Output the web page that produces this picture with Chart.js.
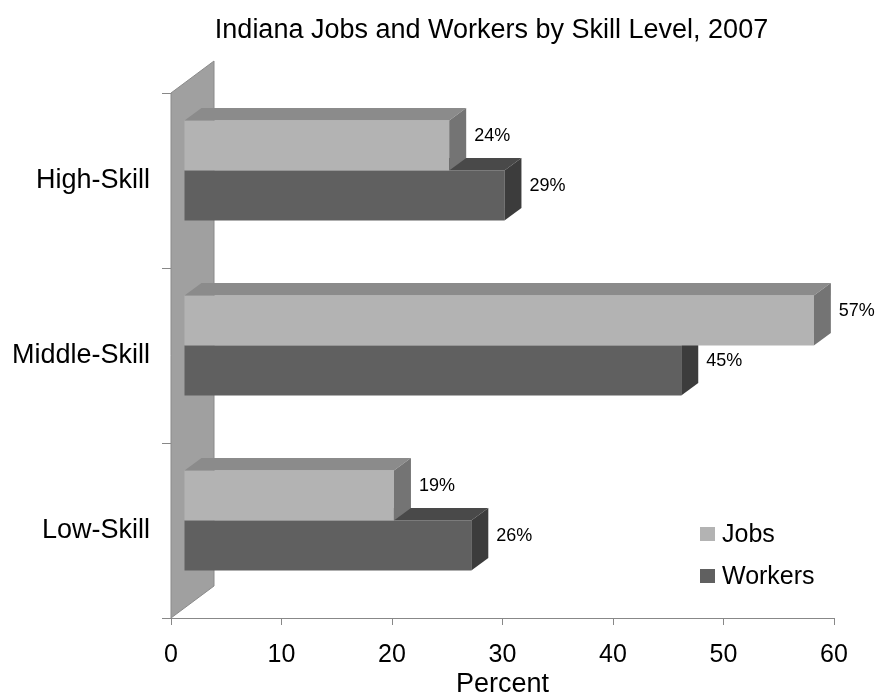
<!DOCTYPE html>
<html>
<head>
<meta charset="utf-8">
<title>Indiana Jobs and Workers by Skill Level, 2007</title>
<script src="https://cdn.jsdelivr.net/npm/chart.js@4.4.1/dist/chart.umd.min.js"></script>
<style>
  html, body { margin: 0; padding: 0; background: #fff; }
  canvas { display: block; }
</style>
</head>
<body>
<canvas id="skillChart" width="877" height="698"></canvas>
<script>
// Chart data
const skillLevels = ["High-Skill", "Middle-Skill", "Low-Skill"];
const jobsPercent = [24, 57, 19];
const workersPercent = [29, 45, 26];
const percentTicks = [0, 10, 20, 30, 40, 50, 60];
const seriesNames = ["Jobs", "Workers"];
const chartTitle = "Indiana Jobs and Workers by Skill Level, 2007";
const axisTitle = "Percent";

// Face colours for the 3D bars
const jobsColors = { front: "#b3b3b3", top: "#8b8b8b", side: "#747474" };
const workersColors = { front: "#606060", top: "#494949", side: "#3c3c3c" };

const FONT = "'Liberation Sans', Arial, sans-serif";
const SHIFT = { x: 13, y: -10 };    // bars sit a little behind the front plane
const DEPTH = { x: 17, y: -12.5 };  // depth of each bar
const WALL = { x: 43, y: -32 };     // depth of the side wall

// Draws the wall, the top/side faces of the bars, data labels, title and legend
const threeDPlugin = {
    id: "threeD",
    beforeDatasetsDraw(chart) {
        const { ctx, chartArea: a } = chart;
        ctx.save();
        ctx.beginPath();
        ctx.moveTo(a.left, a.top);
        ctx.lineTo(a.left + WALL.x, a.top + WALL.y);
        ctx.lineTo(a.left + WALL.x, a.bottom + WALL.y);
        ctx.lineTo(a.left, a.bottom);
        ctx.closePath();
        ctx.fillStyle = "#a0a0a0";
        ctx.fill();
        ctx.strokeStyle = "#8a8a8a";
        ctx.lineWidth = 1;
        ctx.stroke();
        ctx.restore();
    },
    beforeDatasetDraw(chart) {
        chart.ctx.save();
        chart.ctx.translate(SHIFT.x, SHIFT.y);
    },
    afterDatasetDraw(chart, args) {
        const ctx = chart.ctx;
        const colors = args.index === 0 ? jobsColors : workersColors;
        args.meta.data.forEach(bar => {
            const top = bar.y - bar.height / 2;
            const bottom = bar.y + bar.height / 2;

            // top face
            ctx.beginPath();
            ctx.moveTo(bar.base, top);
            ctx.lineTo(bar.x, top);
            ctx.lineTo(bar.x + DEPTH.x, top + DEPTH.y);
            ctx.lineTo(bar.base + DEPTH.x, top + DEPTH.y);
            ctx.closePath();
            ctx.fillStyle = colors.top;
            ctx.fill();

            // side face
            ctx.beginPath();
            ctx.moveTo(bar.x, top);
            ctx.lineTo(bar.x + DEPTH.x, top + DEPTH.y);
            ctx.lineTo(bar.x + DEPTH.x, bottom + DEPTH.y);
            ctx.lineTo(bar.x, bottom);
            ctx.closePath();
            ctx.fillStyle = colors.side;
            ctx.fill();
        });
        ctx.restore();
    },
    afterDatasetsDraw(chart) {
        const ctx = chart.ctx;
        ctx.save();
        ctx.font = `18px ${FONT}`;
        ctx.fillStyle = "#000";
        ctx.textAlign = "left";
        ctx.textBaseline = "middle";
        chart.data.datasets.forEach((ds, i) => {
            chart.getDatasetMeta(i).data.forEach((bar, j) => {
                const x = bar.x + SHIFT.x + DEPTH.x + 8;
                const y = bar.y + SHIFT.y - 9.5;
                ctx.fillText(ds.data[j] + "%", x, y);
            });
        });
        ctx.restore();
    },
    afterDraw(chart) {
        const ctx = chart.ctx;
        ctx.save();

        // Title
        ctx.font = `27px ${FONT}`;
        ctx.fillStyle = "#000";
        ctx.textAlign = "center";
        ctx.textBaseline = "alphabetic";
        ctx.fillText(chartTitle, 491.5, 38);

        // Legend
        ctx.font = `25px ${FONT}`;
        ctx.textAlign = "left";
        ctx.textBaseline = "middle";
        chart.data.datasets.forEach((ds, i) => {
            const y = 534 + i * 42;
            ctx.fillStyle = ds.backgroundColor;
            ctx.fillRect(700, y - 7, 15, 14);
            ctx.fillStyle = "#000";
            ctx.fillText(ds.label, 722, y + 1);
        });
        ctx.restore();
    }
};

const ctx = document.getElementById("skillChart").getContext("2d");

new Chart(ctx, {
    type: "bar",
    data: {
        labels: skillLevels,
        datasets: [
            { label: seriesNames[0], data: jobsPercent, backgroundColor: jobsColors.front, clip: false },
            { label: seriesNames[1], data: workersPercent, backgroundColor: workersColors.front, clip: false }
        ]
    },
    options: {
        indexAxis: "y",
        responsive: false,
        animation: false,
        devicePixelRatio: 1,
        categoryPercentage: 100 / 175,
        barPercentage: 1,
        layout: { padding: { top: 93, right: 43, left: 0, bottom: 0 } },
        plugins: {
            legend: { display: false },
            title: { display: false },
            tooltip: { enabled: false }
        },
        scales: {
            x: {
                min: percentTicks[0],
                max: percentTicks[percentTicks.length - 1],
                afterBuildTicks: scale => { scale.ticks = percentTicks.map(v => ({ value: v })); },
                afterFit: scale => { scale.height = 80; },
                ticks: { color: "#000", font: { family: FONT, size: 25 }, padding: 15 },
                grid: { drawOnChartArea: false, tickLength: 7, color: "#888" },
                border: { color: "#888" },
                title: { display: true, text: axisTitle, color: "#000", font: { family: FONT, size: 27, lineHeight: 1 }, padding: { top: 0, bottom: 0 } }
            },
            y: {
                afterFit: scale => { scale.width = 171; },
                ticks: { color: "#000", font: { family: FONT, size: 27 }, padding: 12 },
                grid: { drawOnChartArea: false, tickLength: 9, color: "#888" },
                border: { display: false }
            }
        }
    },
    plugins: [threeDPlugin]
});
</script>
</body>
</html>
